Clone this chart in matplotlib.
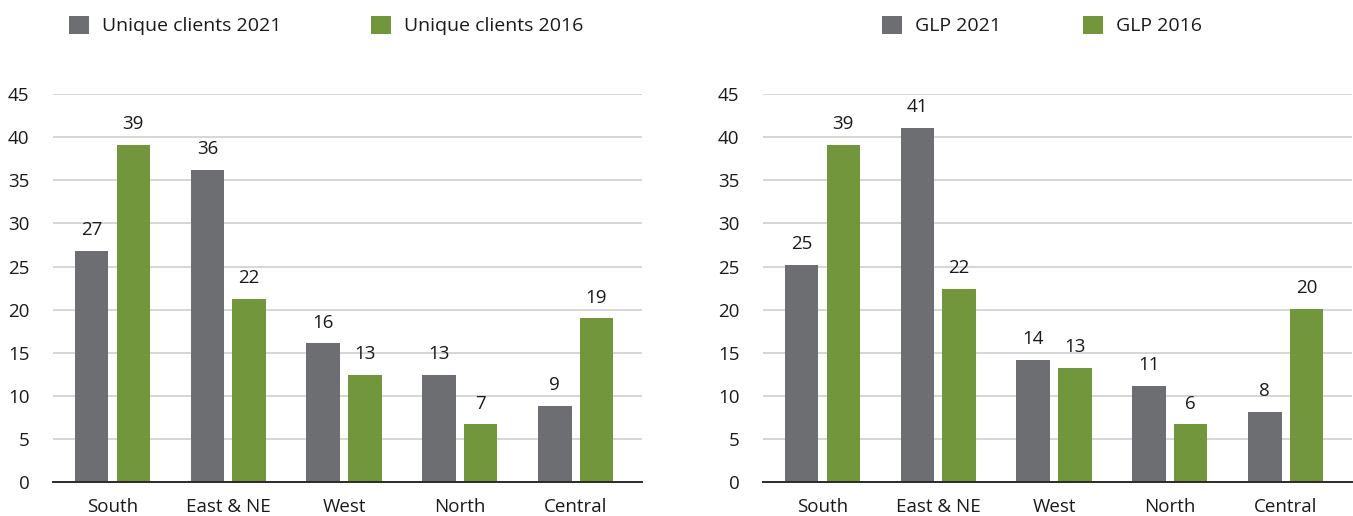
import matplotlib
matplotlib.use("Agg")
import matplotlib.pyplot as plt
from matplotlib.patches import Patch
import numpy as np

plt.rcParams['font.family'] = ['Open Sans', 'DejaVu Sans']

categories = ["South", "East & NE", "West", "North", "Central"]

clients_2021 = [26.8, 36.2, 16.1, 12.4, 8.9]
clients_2016 = [39.1, 21.3, 12.4, 6.7, 19.0]
clients_2021_labels = ["27", "36", "16", "13", "9"]
clients_2016_labels = ["39", "22", "13", "7", "19"]

glp_2021 = [25.2, 41.1, 14.2, 11.2, 8.2]
glp_2016 = [39.1, 22.4, 13.3, 6.7, 20.1]
glp_2021_labels = ["25", "41", "14", "11", "8"]
glp_2016_labels = ["39", "22", "13", "6", "20"]

yticks = [0, 5, 10, 15, 20, 25, 30, 35, 40, 45]

GREY = "#6d6e71"
GREEN = "#71963c"
TEXT = "#1a1a1a"

W, H = 1353, 516
fig = plt.figure(figsize=(W / 100, H / 100), dpi=100)

def draw(ax, v21, v16, l21, l16):
    x = np.arange(len(categories))
    w = 0.29
    off = 0.18
    b1 = ax.bar(x - off, v21, width=w, color=GREY, zorder=3)
    b2 = ax.bar(x + off, v16, width=w, color=GREEN, zorder=3)
    for bars, labs in ((b1, l21), (b2, l16)):
        for b, lab in zip(bars, labs):
            ax.annotate(lab, (b.get_x() + b.get_width() / 2, b.get_height()),
                        xytext=(0, 8.5), textcoords="offset points",
                        ha="center", va="bottom", fontsize=13.5, color=TEXT)
    ax.set_ylim(0, 45)
    ax.set_xlim(-0.514, 4.574)
    ax.set_yticks(yticks)
    ax.set_yticklabels([str(t) for t in yticks])
    ax.set_xticks(x)
    ax.set_xticklabels(categories)
    ax.yaxis.grid(True, color="#cfcfcf", linewidth=1.2, zorder=0)
    ax.set_axisbelow(True)
    for s in ("top", "right", "left"):
        ax.spines[s].set_visible(False)
    ax.spines["bottom"].set_color("#2b2b2b")
    ax.spines["bottom"].set_linewidth(1.4)
    ax.spines["bottom"].set_zorder(4)
    ax.tick_params(axis="y", length=0, pad=17, labelsize=13.5, labelcolor=TEXT)
    ax.tick_params(axis="x", length=0, pad=11, labelsize=13.5, labelcolor=TEXT)

bottom = 1 - 482.3 / H
height = (482.3 - 94) / H
ax1 = fig.add_axes([53 / W, bottom, 589 / W, height])
ax2 = fig.add_axes([763 / W, bottom, 589 / W, height])

draw(ax1, clients_2021, clients_2016, clients_2021_labels, clients_2016_labels)
draw(ax2, glp_2021, glp_2016, glp_2021_labels, glp_2016_labels)

def legend(labels, x, colspace):
    handles = [Patch(facecolor=GREY, edgecolor="none"), Patch(facecolor=GREEN, edgecolor="none")]
    fig.legend(handles, labels, loc="center left", bbox_to_anchor=(x / W, 1 - 25.5 / H),
               ncol=2, frameon=False, fontsize=14, borderpad=0, borderaxespad=0,
               handlelength=1.05, handleheight=1.05, handletextpad=0.65,
               columnspacing=colspace, labelcolor=TEXT)

legend(["Unique clients 2021", "Unique clients 2016"], 69, 4.6)
legend(["GLP 2021", "GLP 2016"], 882, 4.2)

fig.savefig("out.png", dpi=100)
